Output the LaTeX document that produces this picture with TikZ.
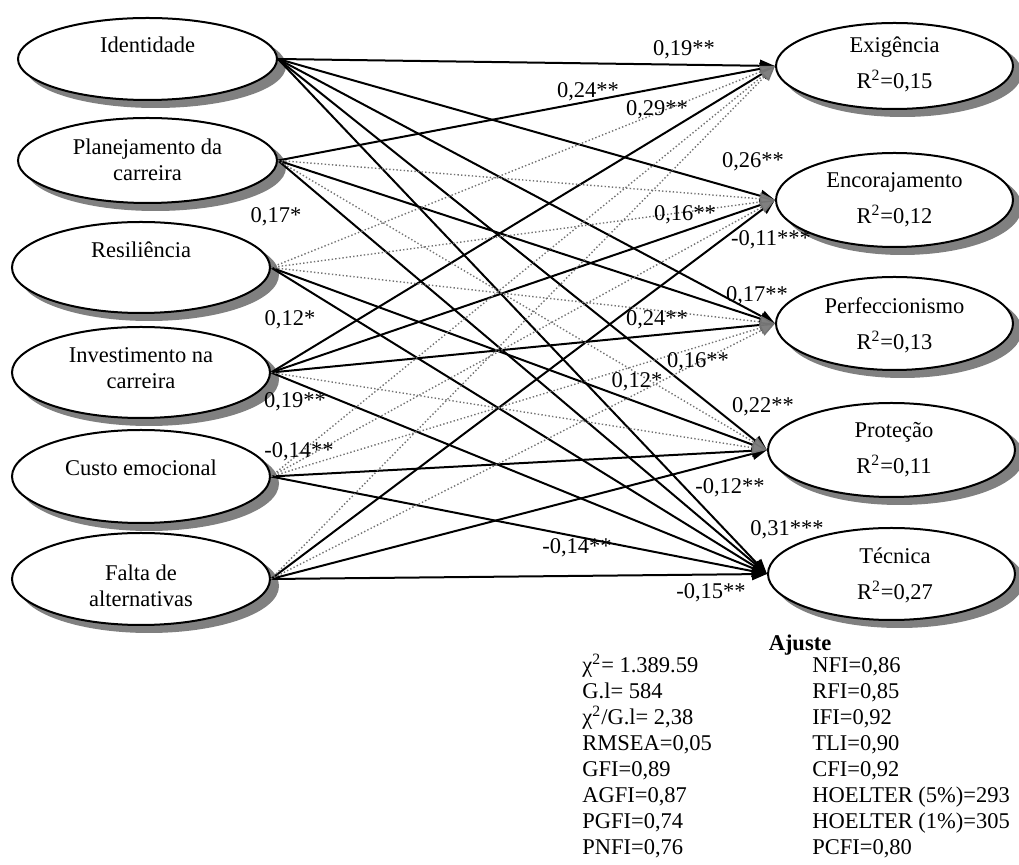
\documentclass[tikz,border=0pt]{standalone}
\usepackage{fontspec}
\setmainfont{Liberation Serif}
\usetikzlibrary{shapes.geometric,arrows.meta}
\definecolor{shadowgray}{RGB}{128,128,128}
\begin{document}
\begin{tikzpicture}[x=0.5pt,y=-0.5pt,
  lat/.style={ellipse, draw=black, line width=1pt, fill=white, inner sep=0pt},
  latsh/.style={ellipse, draw=shadowgray, line width=1pt, fill=shadowgray, inner sep=0pt},
  ltxt/.style={font=\fontsize{11.25}{13}\selectfont, align=center, inner sep=0pt},
  rtxt/.style={font=\fontsize{11.25}{18}\selectfont, align=center, inner sep=0pt},
  coef/.style={font=\fontsize{11.25}{13}\selectfont, inner sep=0pt},
  fitrow/.style={font=\fontsize{11.25}{13}\selectfont, inner sep=0pt, anchor=base west},
  sig/.style={draw=black, line width=1pt, -{Triangle[length=7.5pt,width=6pt]}},
  ns/.style={draw=black!55, line width=0.7pt, dash pattern=on 0.7pt off 1.1pt,
     -{Triangle[length=7.5pt,width=6pt,fill=black!50]}},
]
\useasboundingbox (0,0) rectangle (1019,865);

% shadows (offset 8px right, 7px down)
\node[latsh, minimum width=129.5pt, minimum height=41pt]   (sid)  at (155.5,66)    {};
\node[latsh, minimum width=129.5pt, minimum height=42.5pt] (spl)  at (155.5,167.5) {};
\node[latsh, minimum width=129pt,   minimum height=45.5pt] (sre)  at (149,274.5)   {};
\node[latsh, minimum width=129pt,   minimum height=45.5pt] (sinv) at (149,379.5)   {};
\node[latsh, minimum width=129pt,   minimum height=46.5pt] (scu)  at (149,483.5)   {};
\node[latsh, minimum width=129pt,   minimum height=46pt]   (sfa)  at (149,586)     {};
\node[latsh, minimum width=118.5pt, minimum height=43pt]   (sex)  at (902.5,73)    {};
\node[latsh, minimum width=118.5pt, minimum height=47pt]   (sen)  at (902.5,207)   {};
\node[latsh, minimum width=118.5pt, minimum height=46.5pt] (spe)  at (902.5,330.5) {};
\node[latsh, minimum width=123.5pt, minimum height=47pt]   (spr)  at (899.5,457)   {};
\node[latsh, minimum width=123.5pt, minimum height=46pt]   (ste)  at (899.5,581)   {};

% predictors
\node[lat, minimum width=129.5pt, minimum height=41pt]   (id)  at (147.5,59)    {};
\node[lat, minimum width=129.5pt, minimum height=42.5pt] (pl)  at (147.5,160.5) {};
\node[lat, minimum width=129pt,   minimum height=45.5pt] (re)  at (141,267.5)   {};
\node[lat, minimum width=129pt,   minimum height=45.5pt] (inv) at (141,372.5)   {};
\node[lat, minimum width=129pt,   minimum height=46.5pt] (cu)  at (141,476.5)   {};
\node[lat, minimum width=129pt,   minimum height=46pt]   (fa)  at (141,579)     {};

% outcomes
\node[lat, minimum width=118.5pt, minimum height=43pt]   (ex) at (894.5,66)    {};
\node[lat, minimum width=118.5pt, minimum height=47pt]   (en) at (894.5,200)   {};
\node[lat, minimum width=118.5pt, minimum height=46.5pt] (pe) at (894.5,323.5) {};
\node[lat, minimum width=123.5pt, minimum height=47pt]   (pr) at (891.5,450)   {};
\node[lat, minimum width=123.5pt, minimum height=46pt]   (te) at (891.5,574)   {};

% texts in ellipses
\node[ltxt] (tid)  at (147.5,45)  {Identidade};
\node[ltxt] (tpl)  at (147.5,160) {Planejamento da\\carreira};
\node[ltxt] (tre)  at (141,250)   {Resiliência};
\node[ltxt] (tinv) at (141,368)   {Investimento na\\carreira};
\node[ltxt] (tcu)  at (141,468)   {Custo emocional};
\node[ltxt] (tfa)  at (141,586)   {Falta de\\alternativas};

\node[rtxt] (tex) at (894.5,64)  {Exigência\\R\textsuperscript{2}=0,15};
\node[rtxt] (ten) at (894.5,200) {Encorajamento\\R\textsuperscript{2}=0,12};
\node[rtxt] (tpe) at (894.5,325) {Perfeccionismo\\R\textsuperscript{2}=0,13};
\node[rtxt] (tpr) at (894,450)   {Proteção\\R\textsuperscript{2}=0,11};
\node[rtxt] (tte) at (895,575)   {Técnica\\R\textsuperscript{2}=0,27};

% significant paths
\draw[sig] (id.east) -- (ex.west);
\draw[sig] (id.east) -- (en.west);
\draw[sig] (id.east) -- (pe.west);
\draw[sig] (id.east) -- (pr.west);
\draw[sig] (id.east) -- (te.west);
\draw[sig] (pl.east) -- (ex.west);
\draw[sig] (pl.east) -- (pe.west);
\draw[sig] (pl.east) -- (te.west);
\draw[sig] (re.east) -- (pr.west);
\draw[sig] (re.east) -- (te.west);
\draw[sig] (inv.east) -- (ex.west);
\draw[sig] (inv.east) -- (en.west);
\draw[sig] (inv.east) -- (pe.west);
\draw[sig] (inv.east) -- (te.west);
\draw[sig] (cu.east) -- (pr.west);
\draw[sig] (cu.east) -- (te.west);
\draw[sig] (fa.east) -- (en.west);
\draw[sig] (fa.east) -- (pr.west);
\draw[sig] (fa.east) -- (te.west);

% non-significant paths
\draw[ns] (pl.east) -- (en.west);
\draw[ns] (pl.east) -- (pr.west);
\draw[ns] (re.east) -- (ex.west);
\draw[ns] (re.east) -- (en.west);
\draw[ns] (re.east) -- (pe.west);
\draw[ns] (inv.east) -- (pr.west);
\draw[ns] (cu.east) -- (ex.west);
\draw[ns] (cu.east) -- (en.west);
\draw[ns] (cu.east) -- (pe.west);
\draw[ns] (fa.east) -- (ex.west);
\draw[ns] (fa.east) -- (pe.west);

% coefficients
\node[coef] (c1)  at (684,50)  {0,19**};
\node[coef] (c2)  at (588,92)  {0,24**};
\node[coef] (c3)  at (657,110) {0,29**};
\node[coef] (c4)  at (753,162) {0,26**};
\node[coef] (c5)  at (276,217) {0,17*};
\node[coef] (c6)  at (685,215) {0,16**};
\node[coef] (c7)  at (771,240) {-0,11***};
\node[coef] (c8)  at (757,296) {0,17**};
\node[coef] (c9)  at (290,320) {0,12*};
\node[coef] (c10) at (657,320) {0,24**};
\node[coef] (c11) at (698,362) {0,16**};
\node[coef] (c12) at (637,382) {0,12*};
\node[coef] (c13) at (295,402) {0,19**};
\node[coef] (c14) at (763,407) {0,22**};
\node[coef] (c15) at (299,452) {-0,14**};
\node[coef] (c16) at (730,488) {-0,12**};
\node[coef] (c17) at (787,530) {0,31***};
\node[coef] (c18) at (577,548) {-0,14**};
\node[coef] (c19) at (711,593) {-0,15**};

% fit indices
\node[font=\fontsize{11.25}{13}\selectfont\bfseries, inner sep=0pt] (aj) at (800,645) {Ajuste};
\foreach \t [count=\i from 0] in {χ\textsuperscript{2}= 1.389.59, G.l= 584, χ\textsuperscript{2}/G.l= 2{,}38, RMSEA=0{,}05, GFI=0{,}89, AGFI=0{,}87, PGFI=0{,}74, PNFI=0{,}76}
  \node[fitrow] (fl\i) at (582,672.5+26*\i) {\t};
\foreach \t [count=\i from 0] in {NFI=0{,}86, RFI=0{,}85, IFI=0{,}92, TLI=0{,}90, CFI=0{,}92, HOELTER (5\%)=293, HOELTER (1\%)=305, PCFI=0{,}80}
  \node[fitrow] (fr\i) at (812,672.5+26*\i) {\t};
\end{tikzpicture}
\end{document}
